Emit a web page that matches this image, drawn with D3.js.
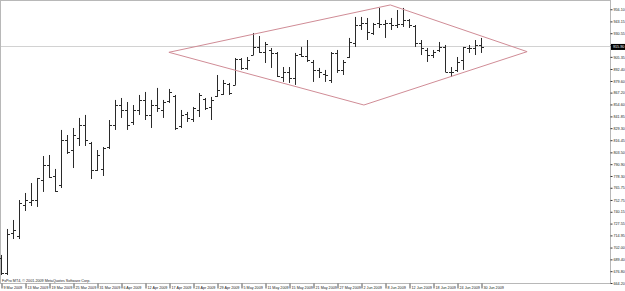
<!DOCTYPE html>
<html><head><meta charset="utf-8">
<script src="https://cdn.jsdelivr.net/npm/d3@7"></script>
<style>html,body{margin:0;padding:0;background:#fff;overflow:hidden}</style>
</head><body><svg id="c" width="625" height="291"></svg>
<script>
// ---- data (daily OHLC, index 0 = 9 Mar 2009) ----
const open  = [690.9,674.9,717.5,714.3,747.4,750.6,752.7,774.0,790.0,778.3, 768.7,816.7,806.0,818.8,832.7,813.5,784.7,785.8,809.2,832.7, 854.0,848.7,835.9,848.7,859.4,843.4,854.0,848.7,858.3,863.6, 831.6,844.4,839.1,848.7,860.4,851.9,863.6,865.8,876.4,875.4, 903.1,893.5,907.3,915.9,910.5,912.7,909.5,883.9,889.2,882.8, 908.4,906.3,899.9,891.4,887.1,880.7,909.5,891.4,905.2,920.1, 939.3,941.5,930.8,941.5,940.4,941.5,939.3,940.4,944.7,938.3, 920.1,912.7,907.3,912.7,915.9,889.2,891.4,902.0,914.8,914.8,918.0];
const high  = [694.1,721.8,731.4,752.7,760.2,770.8,776.2,799.6,800.7,785.8, 827.4,822.0,829.5,840.2,843.4,814.6,806.0,809.2,838.0,859.4, 861.5,857.2,854.0,864.7,867.9,859.4,872.2,859.4,871.1,864.7, 848.7,846.6,851.9,866.8,861.5,862.6,886.0,880.7,877.5,904.1, 904.1,905.2,930.8,927.6,921.2,914.8,910.5,894.5,894.5,909.5, 915.9,923.3,902.0,893.5,891.4,910.5,912.7,902.0,925.5,947.9, 947.9,946.8,941.5,957.5,944.7,946.8,955.3,957.5,945.7,939.3, 923.3,914.8,912.7,921.2,918.0,894.5,905.2,915.9,918.0,923.3,925.5];
const low   = [672.7,672.7,711.1,711.1,741.0,746.3,745.3,761.3,776.2,761.3, 765.5,801.8,786.8,810.3,810.3,775.1,783.6,778.3,807.1,827.4, 840.2,827.4,832.7,843.4,838.0,829.5,846.6,840.2,856.2,827.4, 829.5,835.9,835.9,841.2,848.7,838.0,862.6,864.7,864.7,875.4, 891.4,891.4,907.3,909.5,898.8,893.5,883.9,878.6,877.5,875.4, 905.2,899.9,878.6,882.8,878.6,877.5,888.2,886.0,904.1,915.9, 934.0,923.3,928.7,936.1,925.5,934.0,936.1,937.2,936.1,915.9, 907.3,899.9,904.1,910.5,889.2,883.9,889.2,891.4,909.5,907.3,909.5];
const close = [674.9,716.5,720.7,749.5,752.7,752.7,776.2,790.0,777.2,762.3, 816.7,803.9,822.0,832.7,816.7,784.7,800.7,808.2,832.7,854.0, 848.7,832.7,848.7,859.4,843.4,854.0,850.8,857.2,867.9,829.5, 843.4,840.2,850.8,864.7,850.8,859.4,870.0,877.5,866.8,903.1, 893.5,902.0,915.9,910.5,919.1,909.5,885.0,889.2,882.8,907.3, 906.3,902.0,891.4,889.2,886.0,909.5,891.4,899.9,921.2,939.3, 941.5,931.9,940.4,940.4,941.5,939.3,940.4,944.7,939.3,920.1, 914.8,907.3,910.5,915.9,889.2,889.2,899.9,915.9,914.8,918.0,915.9];

const xTickIdx    = [0,4,8,12,16,20,24,28,32,36,40,44,48,52,56,60,64,68,72,76,80];
const xTickLabels = ["9 Mar 2009","13 Mar 2009","19 Mar 2009","25 Mar 2009","31 Mar 2009","6 Apr 2009","12 Apr 2009","17 Apr 2009","23 Apr 2009","29 Apr 2009","5 May 2009","11 May 2009","15 May 2009","21 May 2009","27 May 2009","2 Jun 2009","8 Jun 2009","12 Jun 2009","18 Jun 2009","24 Jun 2009","30 Jun 2009"];
const yTickValues = [956.10,943.15,930.55,917.95,905.35,892.40,879.60,867.20,854.60,841.85,829.30,816.45,803.50,790.90,778.30,765.75,752.75,740.15,727.55,714.95,702.00,689.40,676.80,664.20];
const currentPrice = 915.90;
const diamondIdx   = [27.9,64.8,87.6,60.4];
const diamondPrice = [910.2,960.7,910.9,854.0];
const copyright = "FxPro MT4, \u00A9 2001-2009 MetaQuotes Software Corp.";

// ---- layout ----
const plotR = 610, plotT = 1, plotB = 283;
const x = d3.scaleLinear().domain([0,80]).range([1.5,481.5]);
const y = d3.scaleLinear().domain([664.2,964.9]).range([plotB,plotT]);
const svg = d3.select("#c");
const font = "'Liberation Sans', Arial, sans-serif";
const fs = 3.7;
const frameCol = "#b8b8b8";

// current price line
const cpY = Math.round(y(currentPrice)) - 0.5;
svg.append("line").attr("x1",0).attr("x2",plotR).attr("y1",cpY).attr("y2",cpY)
  .attr("stroke","#d2d2d2").attr("stroke-width",1);

// frame
svg.append("line").attr("x1",0).attr("x2",plotR).attr("y1",0.5).attr("y2",0.5).attr("stroke",frameCol);
svg.append("line").attr("x1",0.5).attr("x2",0.5).attr("y1",0).attr("y2",plotB).attr("stroke",frameCol);
svg.append("line").attr("x1",0).attr("x2",plotR+0.5).attr("y1",plotB+0.5).attr("y2",plotB+0.5).attr("stroke",frameCol);

// bars
const bars = svg.append("g").attr("stroke","#2a2a2a").attr("stroke-width",1);
open.forEach((o,i)=>{
  const xc = x(i);
  const g = bars.append("g");
  g.append("line").attr("x1",xc).attr("x2",xc).attr("y1",y(high[i])).attr("y2",y(low[i]));
  const yo = Math.round(y(o))+0.5, yc = Math.round(y(close[i]))+0.5;
  g.append("line").attr("x1",xc-2.5).attr("x2",xc).attr("y1",yo).attr("y2",yo);
  g.append("line").attr("x1",xc).attr("x2",xc+2.5).attr("y1",yc).attr("y2",yc);
});

// diamond
const pts = diamondIdx.map((d,i)=>[x(d), y(diamondPrice[i])]);
svg.append("path").attr("d", d3.line()(pts.concat([pts[0]])))
  .attr("fill","none").attr("stroke","#d08c96").attr("stroke-width",1);

// right axis
const ya = svg.append("g").attr("transform",`translate(${plotR+0.5},0)`)
  .call(d3.axisRight(y).tickValues(yTickValues).tickSize(2).tickPadding(1).tickFormat(d3.format(".2f")));
ya.select(".domain").attr("stroke",frameCol).attr("d",`M0,0V${plotB+0.5}`);
ya.selectAll(".tick line").attr("stroke","#333");
ya.selectAll("text").attr("font-family",font).attr("font-size",fs).attr("fill","#222");

// current price label
svg.append("rect").attr("x",plotR+1).attr("y",y(currentPrice)-3).attr("width",14).attr("height",6).attr("fill","#000");
svg.append("text").attr("x",plotR+3).attr("y",y(currentPrice)).attr("dy","0.32em")
  .attr("font-family",font).attr("font-size",fs).attr("fill","#fff").text(d3.format(".2f")(currentPrice));

// bottom axis
const xa = svg.append("g").attr("transform",`translate(0,${plotB+0.5})`)
  .call(d3.axisBottom(x).tickValues(xTickIdx).tickSize(5).tickFormat((d,i)=>xTickLabels[i]));
xa.select(".domain").remove();
xa.selectAll(".tick line").attr("stroke","#555");
xa.selectAll("text").attr("font-family",font).attr("font-size",fs).attr("fill","#222")
  .attr("text-anchor","start").attr("dx",1.5).attr("y",2.5).attr("dy","0.71em");

// copyright
svg.append("text").attr("x",2).attr("y",plotB-1.2).attr("font-family",font).attr("font-size",fs)
  .attr("fill","#222").text(copyright);
</script></body></html>
